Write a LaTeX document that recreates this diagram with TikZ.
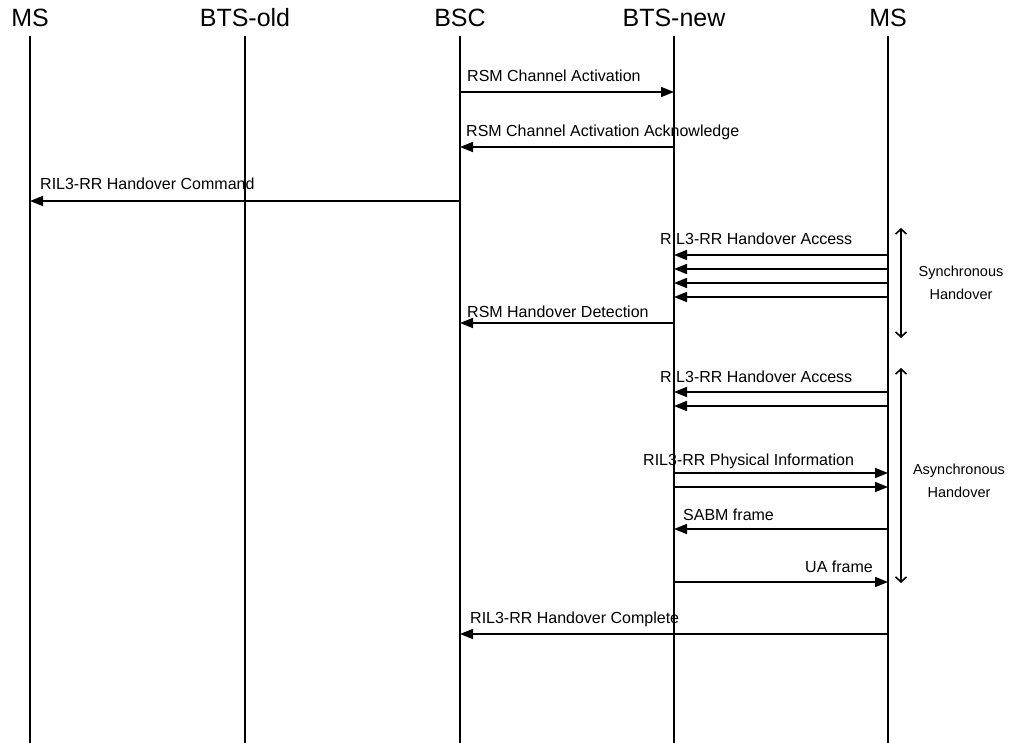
\documentclass[tikz,border=0pt]{standalone}
\usepackage{fontspec}
\setmainfont{Liberation Sans}
\usetikzlibrary{arrows.meta}
\begin{document}
\begin{tikzpicture}[x=1pt,y=-1pt,
  lifeline/.style={line width=1.8pt},
  msg/.style={line width=1.6pt,-{Triangle[length=13pt,width=10pt]}},
  span/.style={line width=1.6pt,{Straight Barb[length=5pt,width=11pt]}-{Straight Barb[length=5pt,width=11pt]}},
  head/.style={anchor=base,inner sep=0pt,font=\fontsize{25}{28}\selectfont},
  lbl/.style={inner sep=0pt,font=\fontsize{16}{18}\selectfont},
  note/.style={inner sep=0pt,align=center,font=\fontsize{14.5}{23}\selectfont}]
\useasboundingbox (0,0) rectangle (1017,743);

% entity headers
\node[head] (hMSa) at (30,27) {MS};
\node[head] (hBTSo) at (245,27) {BTS-old};
\node[head] (hBSC) at (460,27) {BSC};
\node[head] (hBTSn) at (674,27) {BTS-new};
\node[head] (hMSb) at (888,27) {MS};

% lifelines
\foreach \n/\x in {MSa/30,BTSo/245,BSC/460,BTSn/674,MSb/888}{
  \coordinate (top\n) at (\x,36);
  \coordinate (bot\n) at (\x,743);
  \draw[lifeline] (top\n) -- (bot\n);
}

% message end points
\coordinate (a1) at (460,92);  \coordinate (b1) at (674,92);
\coordinate (a2) at (674,147); \coordinate (b2) at (460,147);
\coordinate (a3) at (460,201); \coordinate (b3) at (30,201);
\coordinate (a4) at (888,255); \coordinate (b4) at (674,255);
\coordinate (a5) at (888,269); \coordinate (b5) at (674,269);
\coordinate (a6) at (888,283); \coordinate (b6) at (674,283);
\coordinate (a7) at (888,297); \coordinate (b7) at (674,297);
\coordinate (a8) at (674,323); \coordinate (b8) at (460,323);
\coordinate (a9) at (888,392); \coordinate (b9) at (674,392);
\coordinate (a10) at (888,406); \coordinate (b10) at (674,406);
\coordinate (a11) at (674,473); \coordinate (b11) at (888,473);
\coordinate (a12) at (674,487); \coordinate (b12) at (888,487);
\coordinate (a13) at (888,529); \coordinate (b13) at (674,529);
\coordinate (a14) at (674,582); \coordinate (b14) at (888,582);
\coordinate (a15) at (888,634); \coordinate (b15) at (460,634);

% messages
\foreach \i in {1,...,15}{ \draw[msg] (a\i) -- (b\i); }

% message labels
\node[lbl,anchor=base west] (t1) at (467,82) {RSM Channel Activation};
\node[lbl,anchor=base west] (t2) at (466,137) {RSM Channel Activation Acknowledge};
\node[lbl,anchor=base west] (t3) at (40,190) {RIL3-RR Handover Command};
\node[lbl,anchor=base west] (t4) at (660,245) {RIL3-RR Handover Access};
\node[lbl,anchor=base west] (t8) at (467,317) {RSM Handover Detection};
\node[lbl,anchor=base west] (t9) at (660,382) {RIL3-RR Handover Access};
\node[lbl,anchor=base west] (t11) at (643,465) {RIL3-RR Physical Information};
\node[lbl,anchor=base west] (t13) at (683,520) {SABM frame};
\node[lbl,anchor=base east] (t14) at (873,572) {UA frame};
\node[lbl,anchor=base west] (t15) at (470,623) {RIL3-RR Handover Complete};

% handover phases
\coordinate (s1) at (901,228); \coordinate (s2) at (901,338);
\draw[span] (s1) -- (s2);
\node[note] (n1) at (961,283) {Synchronous\\Handover};
\coordinate (s3) at (901,368); \coordinate (s4) at (901,583);
\draw[span] (s3) -- (s4);
\node[note] (n2) at (959,481) {Asynchronous\\Handover};
\end{tikzpicture}
\end{document}
